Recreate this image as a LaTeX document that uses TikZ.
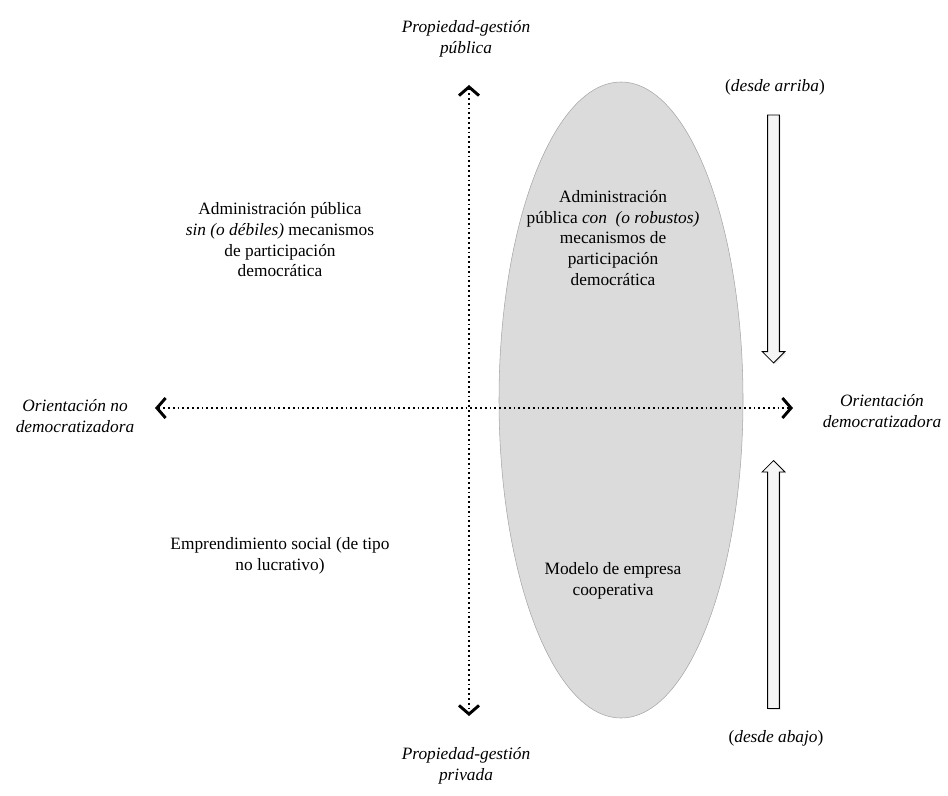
\documentclass[tikz,border=0pt]{standalone}
\usepackage{fontspec}
\setmainfont{Liberation Serif}
\usetikzlibrary{shapes.geometric, shapes.arrows, arrows.meta, positioning, shadows}

\begin{document}
\begin{tikzpicture}[x=0.75pt, y=-0.75pt, >={Straight Barb[length=6.5pt, width=15pt, line width=2.2pt]}]

        % --- estilos ---
        \tikzstyle{texto} = [align=center, font=\fontsize{13}{15.5}\selectfont]
        \tikzstyle{polo} = [align=center, font=\fontsize{13}{16}\selectfont\itshape]
        \tikzstyle{eje} = [line width=1.3pt, dash pattern=on 1.3pt off 2.3pt, <->]
        \tikzstyle{flecha} = [single arrow, draw=black, line width=0.6pt, fill=gray!8, inner sep=4.1pt, single arrow head extend=4.1pt, minimum height=186pt, drop shadow={shadow xshift=1pt, shadow yshift=-1pt, opacity=0.2}]

        \useasboundingbox (0,0) rectangle (948,795);

        % --- elipse ---
        \node (elipse) [ellipse, draw=gray!70, fill=black!14, minimum width=183pt, minimum height=477pt, inner sep=0pt] at (621,400) {};

        % --- ejes ---
        \coordinate (ejeN) at (469,85);
        \coordinate (ejeS) at (469,716);
        \coordinate (ejeO) at (155,408);
        \coordinate (ejeE) at (793,408);
        \draw[eje] (ejeN) -- (ejeS);
        \draw[eje] (ejeO) -- (ejeE);

        % --- polos ---
        \node (publica) [polo] at (466,39) {Propiedad-gestión\\pública};
        \node (privada) [polo] at (466,766) {Propiedad-gestión\\privada};
        \node (nodemo) [polo] at (75,416) {Orientación no\\democratizadora};
        \node (demo) [polo] at (882,411) {Orientación\\democratizadora};

        % --- cuadrantes ---
        \node (adminsin) [texto] at (280,240) {Administración pública\\\textit{sin (o débiles)} mecanismos\\de participación\\democrática};
        \node (admincon) [texto] at (613,238) {Administración\\pública \textit{con\ \ (o robustos)}\\mecanismos de\\participación\\democrática};
        \node (emprend) [texto] at (280,556) {Emprendimiento social (de tipo\\no lucrativo)};
        \node (coop) [texto] at (613,581) {Modelo de empresa\\cooperativa};

        % --- flechas de bloque ---
        \node (arriba) [flecha, shape border rotate=270] at (773.5,236) {};
        \node (abajo) [flecha, shape border rotate=90] at (773.5,587.5) {};
        \node (txtarriba) [texto] at (775,87) {(\textit{desde arriba})};
        \node (txtabajo) [texto] at (776,738) {(\textit{desde abajo})};

\end{tikzpicture}
\end{document}
